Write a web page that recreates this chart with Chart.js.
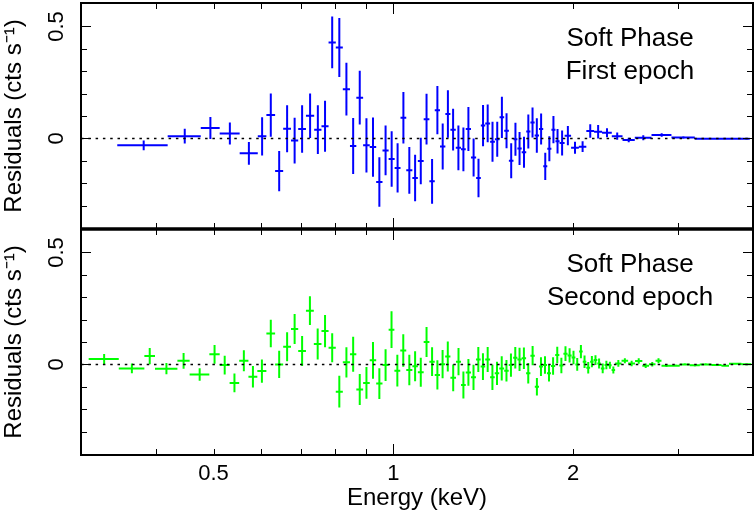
<!DOCTYPE html>
<html>
<head>
<meta charset="utf-8">
<script src="https://cdn.jsdelivr.net/npm/chart.js@4.4.0/dist/chart.umd.min.js"></script>
<style>
  html, body { margin: 0; padding: 0; background: #fff; }
  #wrap { width: 756px; height: 514px; }
</style>
</head>
<body>
<div id="wrap"><canvas id="resid" width="756" height="514"></canvas></div>
<script>
// bin edges (keV) and residuals for the first epoch (top panel)
const topEdges = [0.345, 0.419, 0.476, 0.512, 0.553, 0.593, 0.613, 0.634, 0.654, 0.674,
  0.693, 0.714, 0.737, 0.758, 0.779, 0.801, 0.823, 0.846, 0.867, 0.890,
  0.913, 0.936, 0.959, 0.982, 1.005, 1.028, 1.051, 1.076, 1.099, 1.124,
  1.149, 1.173, 1.197, 1.222, 1.246, 1.272, 1.298, 1.322, 1.349, 1.376,
  1.401, 1.425, 1.452, 1.479, 1.506, 1.533, 1.561, 1.589, 1.613, 1.640,
  1.669, 1.696, 1.724, 1.753, 1.782, 1.810, 1.839, 1.868, 1.898, 1.935,
  1.984, 2.044, 2.104, 2.168, 2.236, 2.321, 2.419, 2.536, 2.705, 2.921,
  3.196, 3.950];
const topResid = [-0.031, 0.010, 0.046, 0.022, -0.067, 0.009, 0.104, -0.146, 0.043, -0.010,
  0.042, 0.101, 0.039, 0.054, 0.429, 0.406, 0.220, -0.034, 0.182, -0.031,
  -0.039, -0.195, -0.054, -0.092, -0.132, 0.092, -0.143, -0.177, -0.101, 0.086,
  -0.192, 0.126, -0.036, 0.109, 0.039, -0.042, -0.049, 0.042, -0.085, -0.177,
  0.057, 0.067, -0.015, -0.004, 0.094, 0.034, -0.100, -0.004, -0.045, -0.062,
  0.031, 0.071, 0.013, 0.042, -0.125, -0.046, 0.039, -0.013, -0.021, 0.012,
  -0.042, -0.037, 0.033, 0.030, 0.025, 0.010, -0.007, 0.003, 0.015, 0.004, -0.002];
const topErr = [0.022, 0.033, 0.049, 0.049, 0.051, 0.085, 0.097, 0.090, 0.105, 0.102,
  0.106, 0.099, 0.109, 0.114, 0.116, 0.132, 0.118, 0.125, 0.120, 0.121,
  0.132, 0.111, 0.111, 0.124, 0.110, 0.115, 0.105, 0.104, 0.104, 0.113,
  0.100, 0.108, 0.103, 0.106, 0.093, 0.100, 0.098, 0.098, 0.085, 0.086,
  0.092, 0.084, 0.089, 0.078, 0.092, 0.078, 0.078, 0.074, 0.074, 0.069,
  0.076, 0.067, 0.077, 0.069, 0.061, 0.056, 0.061, 0.055, 0.056, 0.043,
  0.027, 0.024, 0.030, 0.030, 0.020, 0.016, 0.010, 0.011, 0.008, 0.006, 0.004];

// second epoch (bottom panel)
const botEdges = [0.309, 0.347, 0.383, 0.399, 0.435, 0.456, 0.492, 0.512, 0.532, 0.552,
  0.572, 0.592, 0.613, 0.634, 0.654, 0.674, 0.693, 0.714, 0.736, 0.758,
  0.779, 0.801, 0.823, 0.846, 0.867, 0.890, 0.913, 0.936, 0.959, 0.982,
  1.004, 1.027, 1.051, 1.076, 1.099, 1.124, 1.149, 1.173, 1.197, 1.221,
  1.246, 1.273, 1.298, 1.322, 1.349, 1.375, 1.400, 1.425, 1.452, 1.478,
  1.504, 1.533, 1.560, 1.587, 1.613, 1.640, 1.668, 1.696, 1.725, 1.753,
  1.780, 1.808, 1.836, 1.866, 1.896, 1.926, 1.957, 1.988, 2.017, 2.046,
  2.075, 2.104, 2.135, 2.164, 2.195, 2.225, 2.257, 2.289, 2.319, 2.351,
  2.410, 2.472, 2.539, 2.611, 2.679, 2.747, 2.811, 2.921, 3.016, 3.135,
  3.258, 3.408, 3.542, 3.647, 3.825, 3.975];
const botResid = [0.024, -0.018, 0.037, -0.019, 0.016, -0.045, 0.045, -0.003, -0.083, 0.016,
  -0.055, -0.030, 0.138, 0.000, 0.079, 0.158, 0.060, 0.240, 0.091, 0.149,
  0.074, -0.122, 0.009, 0.045, -0.112, -0.083, 0.018, -0.086, -0.003, 0.155,
  -0.028, 0.062, -0.025, -0.008, -0.035, 0.100, 0.012, -0.047, 0.001, 0.035,
  -0.060, 0.012, -0.092, -0.036, -0.058, 0.022, -0.010, 0.022, -0.058, -0.040,
  -0.018, -0.028, -0.003, 0.030, 0.022, 0.027, -0.040, 0.039, -0.100, -0.010,
  -0.003, -0.040, -0.007, 0.042, -0.005, 0.048, 0.040, 0.031, 0.000, 0.057,
  0.012, -0.015, 0.012, 0.019, 0.004, -0.018, -0.003, -0.004, -0.025, 0.004,
  0.016, 0.004, 0.015, -0.006, 0.001, 0.016, -0.006, -0.006, 0.000, -0.004,
  0.000, -0.003, -0.006, 0.003, 0.001];
const botErr = [0.022, 0.022, 0.036, 0.025, 0.035, 0.028, 0.042, 0.042, 0.042, 0.047,
  0.048, 0.052, 0.061, 0.061, 0.065, 0.067, 0.067, 0.064, 0.069, 0.072,
  0.065, 0.071, 0.068, 0.078, 0.069, 0.071, 0.082, 0.069, 0.071, 0.082,
  0.071, 0.073, 0.068, 0.067, 0.065, 0.067, 0.064, 0.065, 0.063, 0.067,
  0.060, 0.061, 0.060, 0.060, 0.056, 0.056, 0.060, 0.056, 0.056, 0.052,
  0.054, 0.048, 0.052, 0.048, 0.052, 0.048, 0.046, 0.043, 0.039, 0.042,
  0.039, 0.037, 0.039, 0.037, 0.035, 0.033, 0.032, 0.030, 0.028, 0.030,
  0.028, 0.026, 0.025, 0.022, 0.022, 0.022, 0.019, 0.016, 0.016, 0.015,
  0.011, 0.012, 0.012, 0.010, 0.010, 0.011, 0.006, 0.005, 0.005, 0.005,
  0.005, 0.004, 0.004, 0.004, 0.004];

const xTicks = [0.4, 0.5, 0.6, 0.7, 0.8, 0.9, 1, 2, 3];
const xLabels = [0.5, 1, 2];
const yTicks = [-0.3, -0.2, -0.1, 0, 0.1, 0.2, 0.3, 0.4, 0.5];
const yLabels = [0, 0.5];
const panelText = [['Soft Phase', 'First epoch'], ['Soft Phase', 'Second epoch']];

const FONT = 'Liberation Sans, Arial, Helvetica, sans-serif';

// each bin becomes a little cross: horizontal bin width + vertical error
function crosses(edges, vals, errs) {
  const pts = [];
  vals.forEach((v, i) => {
    const lo = edges[i], hi = edges[i + 1], c = (lo + hi) / 2;
    pts.push({x: lo, y: v}, {x: hi, y: v}, {x: c, y: null});
    pts.push({x: c, y: v - errs[i]}, {x: c, y: v + errs[i]}, {x: c, y: null});
  });
  return pts;
}

function zeroLine(axis) {
  return {
    data: [{x: 0.3, y: 0}, {x: 4, y: 0}],
    yAxisID: axis,
    showLine: true,
    borderColor: '#000',
    borderWidth: 1.5,
    borderDash: [2.5, 4.8],
    pointRadius: 0,
    order: 0
  };
}

function crossSet(axis, pts, color) {
  return {
    data: pts,
    yAxisID: axis,
    showLine: true,
    spanGaps: false,
    borderColor: color,
    borderWidth: 2,
    pointRadius: 0,
    order: 1
  };
}

const framePlugin = {
  id: 'frame',
  afterDraw(chart) {
    const ctx = chart.ctx;
    const x = chart.scales.x;
    const seg = (x1, y1, x2, y2) => {
      ctx.beginPath(); ctx.moveTo(x1, y1); ctx.lineTo(x2, y2); ctx.stroke();
    };
    ['yTop', 'yBot'].forEach((id, k) => {
      const y = chart.scales[id];
      ctx.save();
      ctx.strokeStyle = '#000';
      ctx.lineWidth = 1;
      xTicks.forEach(v => {
        const px = Math.round(x.getPixelForValue(v)) + 0.5;
        const len = v === 1 ? 11 : 6;
        seg(px, y.top, px, y.top + len);
        seg(px, y.bottom, px, y.bottom - len);
      });
      yTicks.forEach(v => {
        const py = Math.round(y.getPixelForValue(v)) + 0.5;
        const len = (v === 0 || v === 0.5) ? 10 : 6;
        seg(x.left, py, x.left + len, py);
        seg(x.right, py, x.right - len, py);
      });
      ctx.lineWidth = 2;
      ctx.strokeRect(x.left, y.top, x.right - x.left, y.bottom - y.top);

      ctx.fillStyle = '#000';
      ctx.font = '22px ' + FONT;
      ctx.textAlign = 'center';
      ctx.textBaseline = 'alphabetic';
      yLabels.forEach(v => {
        ctx.save();
        ctx.translate(x.left - 18, y.getPixelForValue(v));
        ctx.rotate(-Math.PI / 2);
        ctx.fillText(String(v), 0, 0);
        ctx.restore();
      });

      ctx.font = '26px ' + FONT;
      const cx = x.getPixelForValue(2.49);
      ctx.fillText(panelText[k][0], cx, y.getPixelForValue(0.412));
      ctx.fillText(panelText[k][1], cx, y.getPixelForValue(0.265));
      ctx.restore();
    });
    const sep = chart.scales.yTop.bottom;
    ctx.save();
    ctx.lineWidth = 3.5;
    ctx.strokeStyle = '#000';
    seg(x.left, sep, x.right, sep);
    ctx.restore();
  }
};

const yAxis = (weight) => ({
  type: 'linear',
  position: 'left',
  stack: 'panels',
  stackWeight: 1,
  weight: weight,
  min: -0.405,
  max: 0.605,
  grid: {display: false, drawTicks: false},
  border: {display: false},
  ticks: {display: false},
  afterBuildTicks: s => { s.ticks = yLabels.map(v => ({value: v})); },
  afterFit: s => { s.width = 81; },
  title: {
    display: true,
    text: 'Residuals (cts s\u207B\u00B9)',
    color: '#000',
    font: {family: FONT, size: 24},
    padding: {top: 0, bottom: 0}
  }
});

new Chart(document.getElementById('resid'), {
  type: 'scatter',
  data: {
    datasets: [
      zeroLine('yTop'),
      crossSet('yTop', crosses(topEdges, topResid, topErr), '#0000ff'),
      zeroLine('yBot'),
      crossSet('yBot', crosses(botEdges, botResid, botErr), '#00ff00')
    ]
  },
  options: {
    responsive: false,
    animation: false,
    devicePixelRatio: 1,
    layout: {padding: {top: 3, right: 3, left: 0, bottom: 0}},
    plugins: {legend: {display: false}, tooltip: {enabled: false}},
    scales: {
      x: {
        type: 'logarithmic',
        position: 'bottom',
        min: 0.3,
        max: 4,
        bounds: 'data',
        grid: {display: false, drawTicks: false},
        border: {display: false},
        afterBuildTicks: s => { s.ticks = xLabels.map(v => ({value: v})); },
        afterFit: s => { s.height = 59; },
        ticks: {
          color: '#000',
          font: {family: FONT, size: 22},
          padding: 6,
          maxRotation: 0,
          autoSkip: false,
          callback: v => String(v)
        },
        title: {
          display: true,
          text: 'Energy (keV)',
          color: '#000',
          font: {family: FONT, size: 24},
          padding: {top: 0, bottom: 1}
        }
      },
      yTop: yAxis(2),
      yBot: yAxis(1)
    }
  },
  plugins: [framePlugin]
});
</script>
</body>
</html>
